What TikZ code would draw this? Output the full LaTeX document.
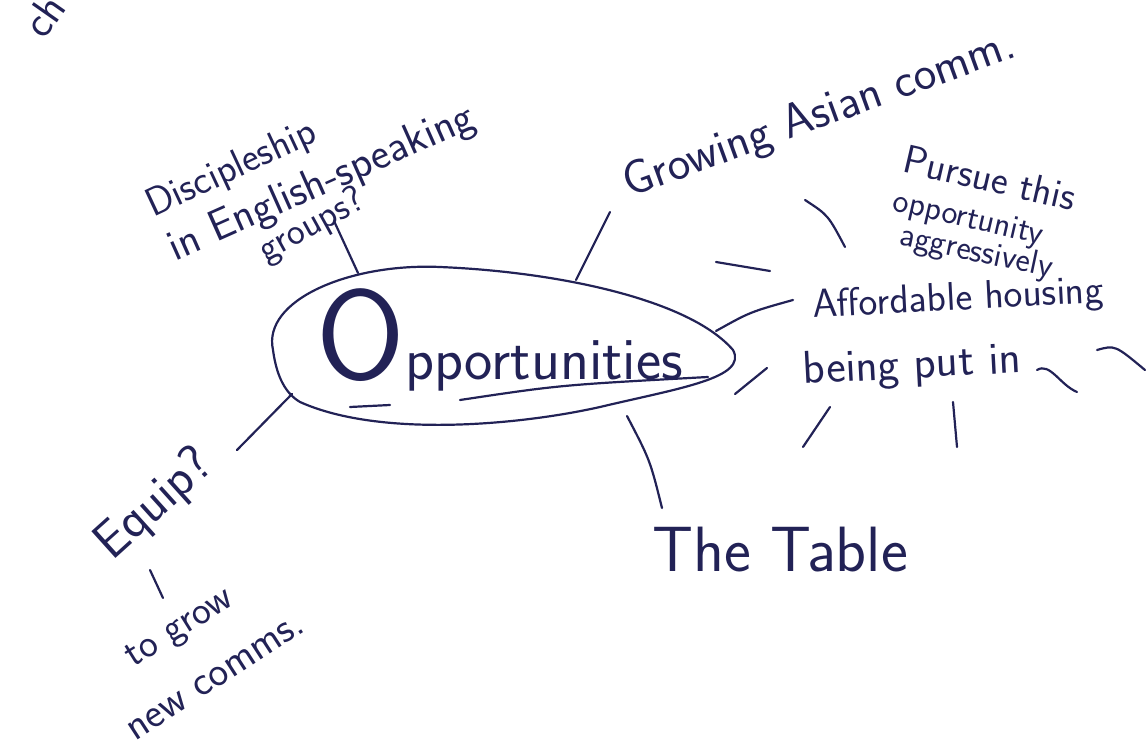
\documentclass[tikz,border=0pt]{standalone}
\usetikzlibrary{positioning}
\definecolor{ink}{RGB}{34,34,86}
\tikzset{
  hand/.style={text=ink, inner sep=0pt, font=\sffamily},
  branch/.style={draw=ink, line width=1.1pt, line cap=round},
  ray/.style={draw=ink, line width=1.1pt, line cap=round},
}
\newcommand{\hs}[1]{\fontsize{#1}{#1}\selectfont}
\begin{document}
\begin{tikzpicture}[x=0.5pt,y=-0.5pt]
  \useasboundingbox (0,0) rectangle (1146,748);
  %\draw[help lines,step=50] (0,0) grid (1146,748); %Hilfsgitter

  % centre: teardrop with the main word
  \draw[ink,line width=1.1pt] (273,350) .. controls (262,300) and (350,263) .. (440,267)
        .. controls (560,272) and (690,300) .. (733,350)
        .. controls (748,378) and (680,388) .. (600,407)
        .. controls (520,425) and (380,438) .. (300,402)
        .. controls (283,392) and (276,372) .. (273,350);
  \node[hand,anchor=base west] (opp) at (316,380) {{\hs{64}O}{\hs{30}pportunities}};
  \coordinate (ulA) at (460,400);
  \coordinate (ulB) at (708,377);
  \draw[branch] (ulA) .. controls (560,385) .. (ulB); % underline
  \draw[branch] (350,407) -- (390,405);

  % points on the teardrop
  \coordinate (tDisc)  at (358,273);
  \coordinate (tAsian) at (576,280);
  \coordinate (tHouse) at (716,331);
  \coordinate (tTable) at (627,416);
  \coordinate (tEquip) at (292,394);

  % branch texts
  \node[hand,rotate=55] (ch) at (44,16) {\hs{22}ch};
  \node[hand,rotate=25] (disc1) at (232,170) {\hs{20}Discipleship};
  \node[hand,rotate=24] (disc2) at (322,184) {\hs{22}in English-speaking};
  \node[hand,rotate=29] (disc3) at (312,226) {\hs{19}groups?};
  \node[hand,rotate=20] (asian) at (820,116) {\hs{24}Growing Asian comm.};
  \node[hand,rotate=-13] (pur1) at (990,178) {\hs{20}Pursue this};
  \node[hand,rotate=-13] (pur2) at (968,220) {\hs{17}opportunity};
  \node[hand,rotate=-12] (pur3) at (976,253) {\hs{17}aggressively};
  \node[hand,rotate=3] (house1) at (958,300) {\hs{20}Affordable housing};
  \node[hand,rotate=3] (house2) at (912,367) {\hs{23}being put in};
  \node[hand] (table) at (780,550) {\hs{32}The Table};
  \node[hand,rotate=42] (equip) at (155,505) {\hs{26}Equip?};
  \node[hand,rotate=32] (grow1) at (181,630) {\hs{20}to grow};
  \node[hand,rotate=33] (grow2) at (216,678) {\hs{21}new comms.};

  % connectors
  \coordinate (eDisc)  at (334,221);
  \coordinate (eAsian) at (610,212);
  \coordinate (eHouse) at (793,300);
  \coordinate (eTable) at (662,508);
  \coordinate (eEquip) at (237,450);
  \coordinate (sGrow)  at (150,570);
  \coordinate (eGrow)  at (163,598);
  \draw[branch] (tDisc) -- (eDisc);
  \draw[branch] (tAsian) -- (eAsian);
  \draw[branch] (tHouse) .. controls (750,312) .. (eHouse);
  \draw[branch] (tTable) .. controls (650,460) .. (eTable);
  \draw[branch] (tEquip) -- (eEquip);
  \draw[branch] (sGrow) -- (eGrow);

  % rays round the housing note
  \draw[ray] (805,200) .. controls (828,215) .. (845,247);
  \draw[ray] (716,262) -- (770,271);
  \draw[ray] (735,394) -- (767,368);
  \draw[ray] (830,407) -- (803,447);
  \draw[ray] (953,402) -- (957,447);
  \draw[ray] (1037,370) .. controls (1050,362) and (1060,385) .. (1077,392);
  \draw[ray] (1097,350) .. controls (1115,345) .. (1145,370);
\end{tikzpicture}
\end{document}
